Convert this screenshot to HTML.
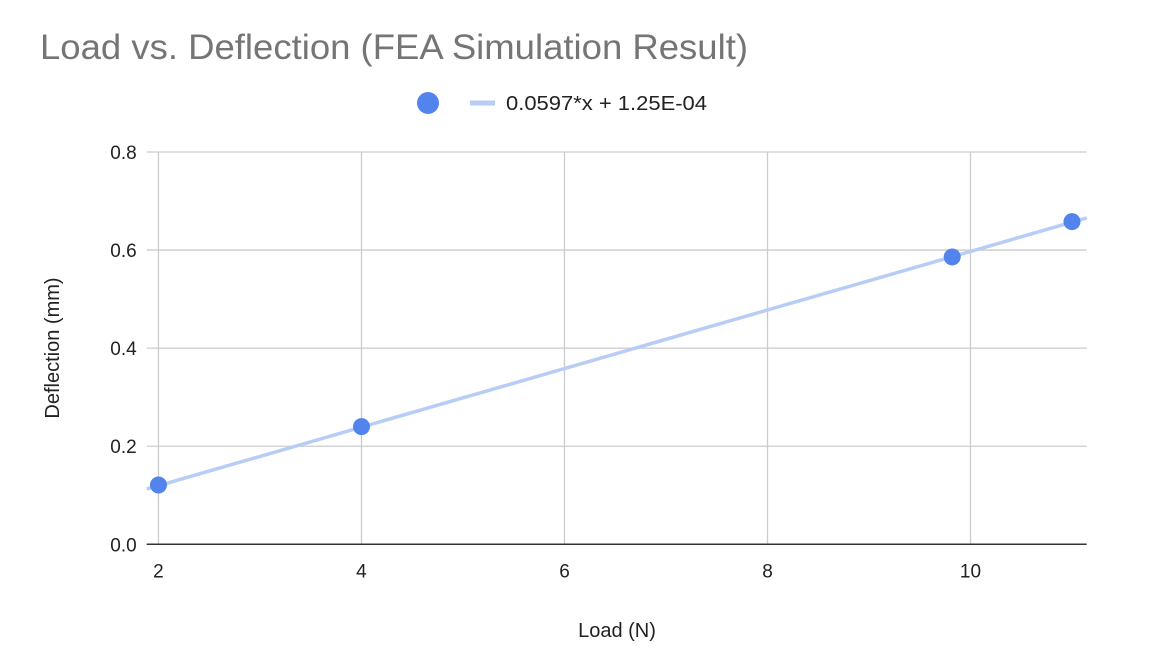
<!DOCTYPE html>
<html><head><meta charset="utf-8"><style>
body{margin:0;background:#fff;font-family:"Liberation Sans",Arial,sans-serif}
</style></head><body>
<svg width="1154" height="660" id="c" xmlns="http://www.w3.org/2000/svg" font-family="Liberation Sans, Arial, sans-serif">
<text x="40" y="59" font-size="35" textLength="708" lengthAdjust="spacingAndGlyphs" fill="#757575">Load vs. Deflection (FEA Simulation Result)</text>
<g>
<circle cx="428" cy="103" r="11" fill="#5383ec"/>
<line x1="470" y1="103" x2="495" y2="103" stroke="#b7cdf6" stroke-width="5"/>
<text x="506" y="110" font-size="20" textLength="201" lengthAdjust="spacingAndGlyphs" fill="#222">0.0597*x + 1.25E-04</text>
</g>
<g id="grid"></g>
<g id="marks"></g>
<text x="617" y="637" font-size="20" text-anchor="middle" fill="#222">Load (N)</text>
<text transform="translate(59,348) rotate(-90)" font-size="20" text-anchor="middle" fill="#222">Deflection (mm)</text>
</svg>
<script>
const loads = [2, 4, 9.82, 11];
const deflections = [0.121, 0.24, 0.586, 0.658];
const xTicks = [2, 4, 6, 8, 10];
const yTicks = [0, 0.2, 0.4, 0.6, 0.8];
const yTickLabels = ["0.0", "0.2", "0.4", "0.6", "0.8"];
const slope = 0.0597;
const intercept = 0.000125;
const xMin = 1.884, xMax = 11.145, yMin = 0, yMax = 0.8;
const L = 146.7, R = 1086.7, T = 152, B = 544.3;
const NS = "http://www.w3.org/2000/svg";
function sx(v){return L + (v - xMin) / (xMax - xMin) * (R - L);}
function sy(v){return B - (v - yMin) / (yMax - yMin) * (B - T);}
function mk(tag, attrs, parent){const e=document.createElementNS(NS,tag);for(const k in attrs)e.setAttribute(k,attrs[k]);parent.appendChild(e);return e;}
const grid = document.getElementById('grid');
const marks = document.getElementById('marks');
yTicks.forEach((t,i)=>{
  if(t!==0){
    const g = mk('line',{x1:L,x2:R,y1:sy(t),y2:sy(t),stroke:'#cccccc','stroke-width':1.3},grid);
    
    
  }
  const tx = mk('text',{x:L-10,y:sy(t)+7,'font-size':19,'text-anchor':'end',fill:'#222'},grid);
  tx.textContent = yTickLabels[i];
  
  
});
xTicks.forEach(t=>{
  const g = mk('line',{x1:sx(t),x2:sx(t),y1:T,y2:B,stroke:'#cccccc','stroke-width':1.3},grid);
  
  
  const tx = mk('text',{x:sx(t),y:B+33,'font-size':19,'text-anchor':'middle',fill:'#222'},grid);
  tx.textContent = String(t);
  
  
});
const base = mk('line',{x1:L,x2:R,y1:B,y2:B,stroke:'#333','stroke-width':1.5},grid);


const tl = mk('line',{x1:sx(xMin),y1:sy(slope*xMin+intercept),x2:sx(xMax),y2:sy(slope*xMax+intercept),stroke:'#b7cdf6','stroke-width':3.5},marks);


loads.forEach((x,i)=>{
  const c = mk('circle',{cx:sx(x),cy:sy(deflections[i]),r:8.5,fill:'#5383ec'},marks);
  
  
});
</script>
</body></html>
